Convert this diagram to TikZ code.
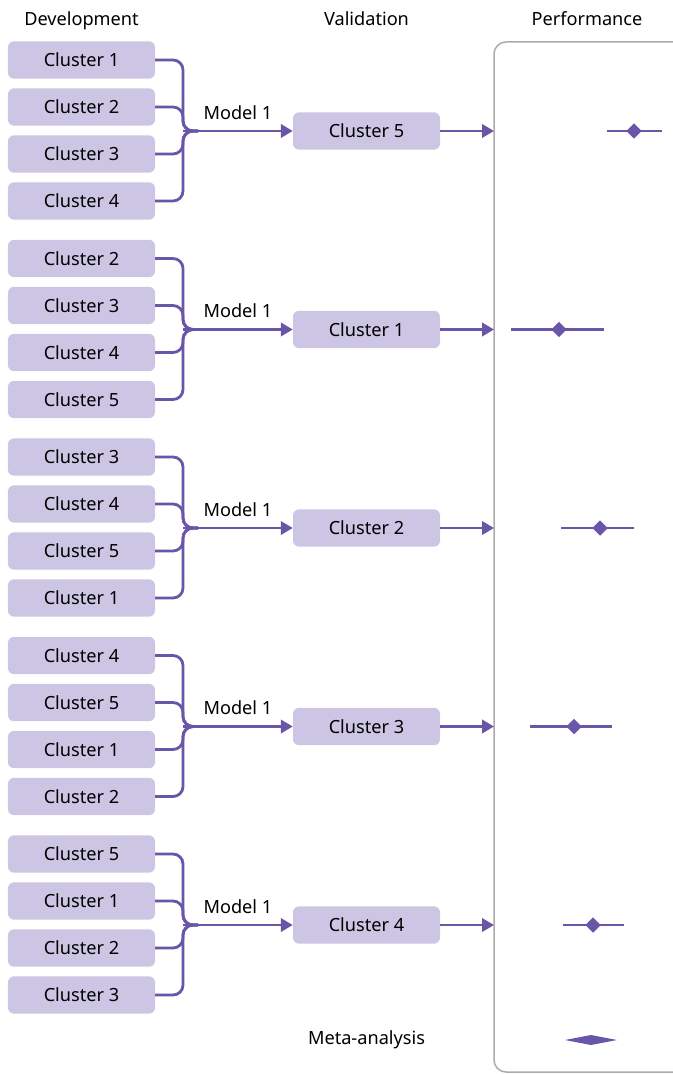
\documentclass[tikz,border=0pt]{standalone}
\usepackage{fontspec}
\setmainfont{Noto Sans}
\usetikzlibrary{
  arrows.meta,
  shapes.geometric
}
\definecolor{boxfill}{HTML}{CCC6E4}
\definecolor{linkcol}{HTML}{6A56A8}
\definecolor{framecol}{HTML}{ABABAB}
\tikzset{
  clusterbox/.style={fill=boxfill, rounded corners=1.8mm, minimum width=4.41cm,
    minimum height=1.12cm, inner sep=0pt, font=\fontsize{15.5}{18}\selectfont},
  headtext/.style={inner sep=0pt, text height=11.5pt, text depth=3.5pt,
    font=\fontsize{15.5}{18}\selectfont},
  link/.style={draw=linkcol, line width=0.085cm},
  linkarrow/.style={link, -{Triangle[length=0.36cm, width=0.4cm]}},
  ci/.style={draw=linkcol, line width=0.065cm},
  estimate/.style={diamond, fill=linkcol, inner sep=0pt, minimum size=0.47cm},
  frame/.style={draw=framecol, line width=0.045cm, rounded corners=3.6mm}
}

\begin{document}
\begin{tikzpicture}[x=0.03cm, y=-0.03cm]
  \def\Xdev{81.5};
  \def\Xmerge{183};
  \def\Xval{366.5};
  \def\Xframe{494};
  \def\Yhead{20.5};
  \useasboundingbox (0,0) rectangle (672,1074);

        \node[headtext] (devhead) at (\Xdev, \Yhead) {Development};
        \node[headtext] (valhead) at (\Xval, \Yhead) {Validation};
        \node[headtext] (perfhead) at (587, \Yhead) {Performance};

        \draw[frame] (\Xframe, 42) rectangle (760, 1072);

  % one block per held-out cluster
  \foreach \k/\v/\a/\b/\c/\d/\lo/\mid/\hi in
      {0/5/1/2/3/4/607/634/662,
       1/1/2/3/4/5/511/559/604,
       2/2/3/4/5/1/561/600/634,
       3/3/4/5/1/2/530/574/612,
       4/4/5/1/2/3/563/593/624} {
    \pgfmathsetmacro{\Ytop}{60+198.5*\k}
    \pgfmathsetmacro{\Ymid}{\Ytop+71}
        \coordinate (merge\k) at (\Xmerge, \Ymid);
        \coordinate (perf\k) at (\Xframe, \Ymid);
        \node[clusterbox] (val\k) at (\Xval, \Ymid) {Cluster \v};
    \foreach \n [count=\i from 0] in {\a,\b,\c,\d} {
        \node[clusterbox] (dev\k-\i) at (\Xdev, \Ytop+47*\i) {Cluster \n};
        \draw[link, rounded corners=3mm] (dev\k-\i.east) -| (merge\k) -- ++(15,0);
    }
	\draw[linkarrow] (merge\k) -- node[headtext, above=0.18cm] {Model 1} (val\k.west);
	\draw[linkarrow] (val\k.east) -- (perf\k);

	\draw[ci] (\lo, \Ymid) -- (\hi, \Ymid);
        \node[estimate] (est\k) at (\mid, \Ymid) {};
  }

        \node[headtext] (meta) at (\Xval, 1040) {Meta-analysis};
        \fill[linkcol] (565, 1040) -- (591, 1035) -- (617, 1040) -- (591, 1045) -- cycle;

\end{tikzpicture}
\end{document}
